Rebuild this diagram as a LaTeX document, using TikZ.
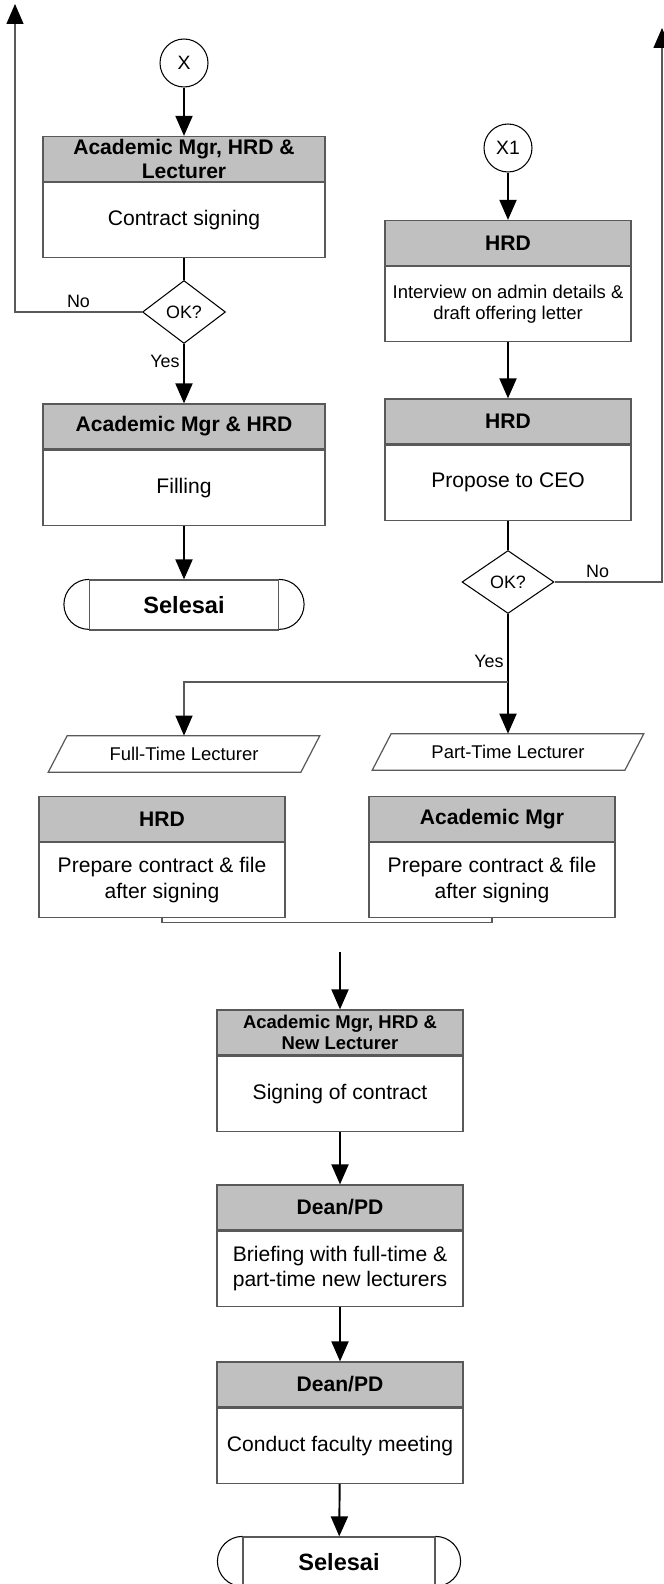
\documentclass[tikz,border=0pt]{standalone}
\usepackage{fontspec}
\setmainfont{Liberation Sans}
\usepackage{tikz}
\usetikzlibrary{positioning, arrows.meta, shapes.geometric}
\definecolor{hdrgray}{HTML}{C0C0C0}

\begin{document}
\begin{tikzpicture}[x=0.02cm, y=-0.02cm,
    headed/.style={-{Triangle[width=0.34cm, length=0.4cm, color=black]}},
    flow/.style={headed, draw=black, line width=1.1pt},
    stem/.style={draw=black, line width=1.1pt},
    wire/.style={draw=black!65, line width=0.7pt},
    retline/.style={wire, headed},
    hdr/.style={draw=black!65, line width=0.7pt, fill=hdrgray, minimum height=0.9cm, align=center, inner sep=0pt, font=\fontsize{12}{14}\selectfont\bfseries},
    body/.style={draw=black!65, line width=0.7pt, minimum height=1.5cm, align=center, inner sep=1pt, font=\fontsize{12}{14.5}\selectfont},
    wide/.style={minimum width=5.64cm},
    narrow/.style={minimum width=4.92cm},
    conn/.style={circle, draw, line width=0.6pt, minimum size=0.96cm, inner sep=0pt, font=\fontsize{11}{13}\selectfont},
    decision/.style={diamond, draw, line width=0.6pt, inner sep=0pt, minimum height=1.26cm, font=\fontsize{10.2}{12}\selectfont},
    term/.style={draw=black!65, line width=0.7pt, minimum height=1cm, font=\fontsize{13.4}{15}\selectfont\bfseries},
    endcap/.style={draw=black, line width=0.6pt},
    io/.style={minimum height=0.72cm, minimum width=5.04cm, inner sep=0pt, font=\fontsize{10.5}{12}\selectfont},
    lbl/.style={font=\fontsize{10.2}{12}\selectfont, inner sep=2pt}]

  \useasboundingbox (0,0) rectangle (663,1584);

  % left column
  \node[conn] (x) at (184,63) {X};
  \node[hdr, wide] (h1) at (184,159) {Academic Mgr, HRD \&\\Lecturer};
  \node[body, wide, below=0pt of h1] (b1) {Contract signing};
  \node[decision, minimum width=1.66cm] (d1) at (184,312) {OK?};
  \node[hdr, wide] (h2) at (184,426.5) {Academic Mgr \& HRD};
  \node[body, wide, below=0pt of h2] (b2) {Filling};
  \node[term, minimum width=3.78cm] (s1) at (184,605) {Selesai};

  % right column
  \node[conn] (x1) at (508,148) {X1};
  \node[hdr, narrow] (h3) at (508,243) {HRD};
  \node[body, narrow, below=0pt of h3, font=\fontsize{10.5}{12.5}\selectfont] (b3) {Interview on admin details \&\\draft offering letter};
  \node[hdr, narrow] (h4) at (508,421.5) {HRD};
  \node[body, narrow, below=0pt of h4] (b4) {Propose to CEO};
  \node[decision, minimum width=1.84cm] (d2) at (508,582) {OK?};

  \node[io] (pl) at (184,754) {Full-Time Lecturer};
  \node[io] (pr) at (508,752) {Part-Time Lecturer};
  \foreach \p in {pl,pr}
    \draw[wire] ([xshift=0.19cm]\p.north west) -- ([xshift=0.19cm]\p.north east)
      -- ([xshift=-0.19cm]\p.south east) -- ([xshift=-0.19cm]\p.south west) -- cycle;

  \node[hdr, narrow] (h5) at (162,819) {HRD};
  \node[body, narrow, below=0pt of h5] (b5) {Prepare contract \& file\\after signing};
  \node[hdr, narrow] (h6) at (492,819) {Academic Mgr};
  \node[body, narrow, below=0pt of h6] (b6) {Prepare contract \& file\\after signing};

  % common part
  \node[hdr, narrow, font=\fontsize{10.5}{12.3}\selectfont\bfseries] (h7) at (340,1032.5) {Academic Mgr, HRD \&\\New Lecturer};
  \node[body, narrow, below=0pt of h7] (b7) {Signing of contract};
  \node[hdr, narrow] (h8) at (340,1207.5) {Dean/PD};
  \node[body, narrow, below=0pt of h8] (b8) {Briefing with full-time \&\\part-time new lecturers};
  \node[hdr, narrow] (h9) at (340,1384.5) {Dean/PD};
  \node[body, narrow, below=0pt of h9] (b9) {Conduct faculty meeting};
  \node[term, minimum width=3.84cm] (s2) at (339,1562) {Selesai};

  \foreach \s in {s1,s2} {
    \draw[endcap] (\s.north west) arc[start angle=90, end angle=270, radius=0.5cm];
    \draw[endcap] (\s.north east) arc[start angle=90, end angle=-90, radius=0.5cm];
  }

  \coordinate (retX) at (15,4);
  \coordinate (retX1) at (662,28);
  \coordinate (fork) at (508,682);
  \coordinate (merge) at (340,952);

  \draw[flow] (x) -- (h1);
  \draw[stem] (b1) -- (d1);
  \draw[flow] (d1) -- node[pos=0.3, left, lbl] {Yes} (h2);
  \draw[flow] (b2) -- (s1);
  \draw[retline] (d1.west) -| node[pos=0.25, above, lbl] {No} (retX);

  \draw[flow] (x1) -- (h3);
  \draw[flow] (b3) -- (h4);
  \draw[stem] (b4) -- (d2);
  \draw[retline] (d2.east) -| node[pos=0.2, above, lbl] {No} (retX1);
  \draw[flow] (d2) -- node[pos=0.4, left, lbl] {Yes} (pr);
  \draw[retline] (fork) -| (pl.north);

  \draw[wire] (b5.south) -- ++(0,4) -| (b6.south);
  \draw[flow] (merge) -- (h7);
  \draw[flow] (b7) -- (h8);
  \draw[flow] (b8) -- (h9);
  \draw[flow] (b9) -- (s2);
\end{tikzpicture}
\end{document}
